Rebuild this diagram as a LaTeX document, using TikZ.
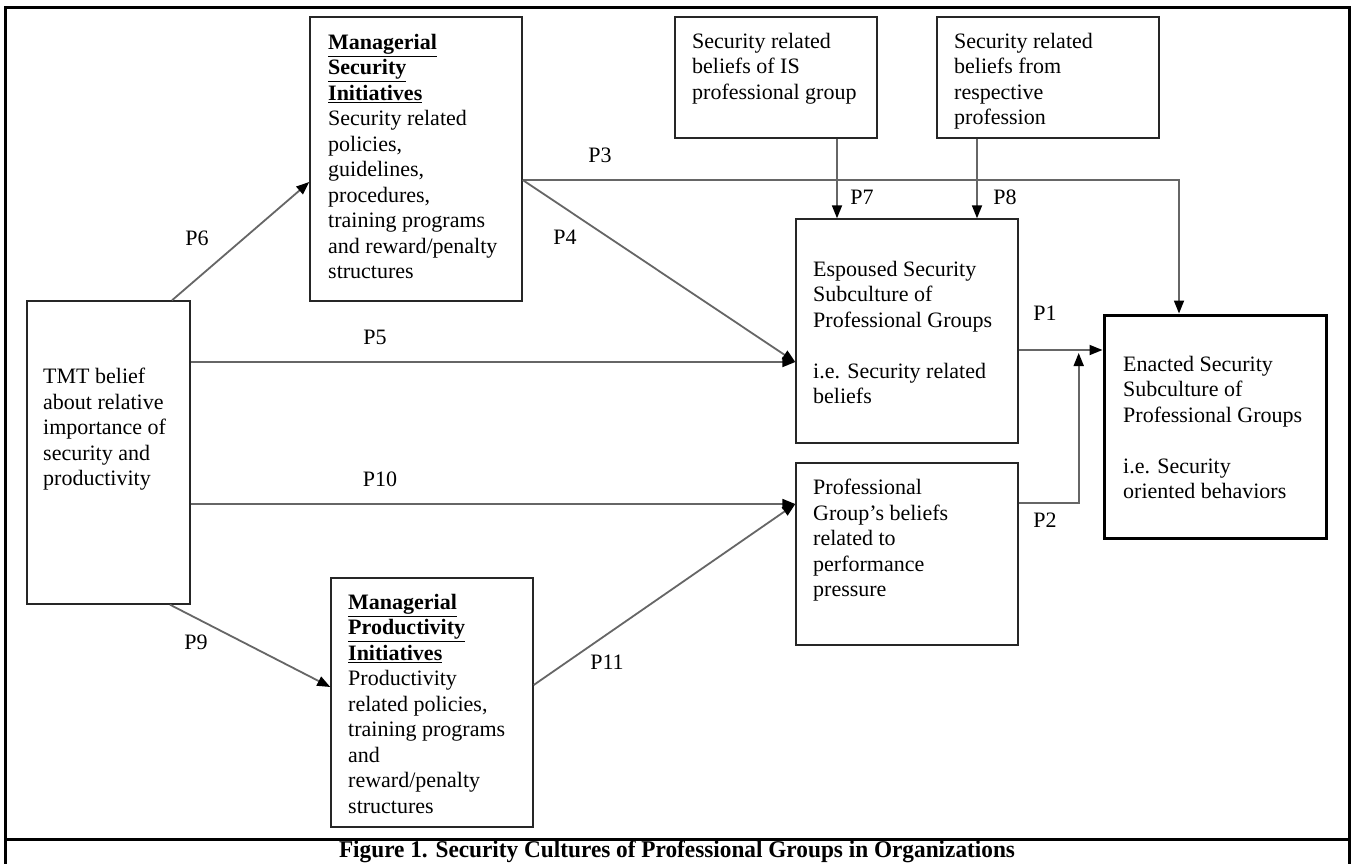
\documentclass[tikz,border=0pt]{standalone}
\usepackage{fontspec}
\setmainfont{Liberation Serif}
\usetikzlibrary{arrows.meta,calc}
\begin{document}
\begin{tikzpicture}[x=1pt,y=-1pt,
  box/.style={draw=black!85, line width=1.4pt, inner sep=0pt},
  txt/.style={anchor=north west, align=left, inner sep=0pt, font=\fontsize{22}{25.5}\selectfont},
  conn/.style={draw=black!60, line width=1.8pt, -{Triangle[length=13pt,width=10pt,color=black]}},
  lab/.style={inner sep=0pt, font=\fontsize{22}{25.5}\selectfont}]
\useasboundingbox (0,0) rectangle (1354,863);
\fill[white] (0,0) rectangle (1354,863);
% frame
\draw[line width=3pt] (5,870) -- (5,7) -- (1349,7) -- (1349,870);
\draw[line width=3pt] (5,839) -- (1349,839);
% boxes
\node[box, minimum width=163pt, minimum height=303pt] (tmt) at (108.5,452.5) {};
\node[box, minimum width=212pt, minimum height=284pt] (msi) at (416,159) {};
\node[box, minimum width=202pt, minimum height=121pt] (isb) at (776,77.5) {};
\node[box, minimum width=222pt, minimum height=121pt] (rpb) at (1048,77.5) {};
\node[box, minimum width=222pt, minimum height=224pt] (esp) at (907,331) {};
\node[box, minimum width=222pt, minimum height=182pt] (pgb) at (907,554) {};
\node[box, draw=black, line width=3pt, minimum width=222pt, minimum height=223pt] (ena) at (1215,426.5) {};
\node[box, minimum width=202pt, minimum height=249pt] (mpi) at (432,702.5) {};
% texts
\node[txt] (tmtt) at (43,368) {TMT belief\\ about relative\\ importance of\\ security and\\ productivity};
\node[txt] (msit) at (328,34) {\underline{\textbf{Managerial}}\\ \underline{\textbf{Security}}\\ \underline{\textbf{Initiatives}}\\ Security related\\ policies,\\ guidelines,\\ procedures,\\ training programs\\ and reward/penalty\\ structures};
\node[txt] (isbt) at (692,33) {Security related\\ beliefs of IS\\ professional group};
\node[txt] (rpbt) at (954,33) {Security related\\ beliefs from\\ respective\\ profession};
\node[txt] (espt) at (813,261) {Espoused Security\\ Subculture of\\ Professional Groups\\[25.5pt] i.e. Security related\\ beliefs};
\node[txt] (enat) at (1123,356) {Enacted Security\\ Subculture of\\ Professional Groups\\[25.5pt] i.e. Security\\ oriented behaviors};
\node[txt] (pgbt) at (813,479) {Professional\\ Group’s beliefs\\ related to\\ performance\\ pressure};
\node[txt] (mpit) at (348,594) {\underline{\textbf{Managerial}}\\ \underline{\textbf{Productivity}}\\ \underline{\textbf{Initiatives}}\\ Productivity\\ related policies,\\ training programs\\ and\\ reward/penalty\\ structures};
% connector end points
\coordinate (p3s) at ($(msi.east)+(0,21)$);
\coordinate (p3c) at ($(p3s -| ena.north)+(-36,0)$);
\coordinate (p45e) at ($(esp.west)+(0,31)$);
\coordinate (p1s) at ($(esp.east)+(0,19)$);
\coordinate (p1e) at (p1s -| ena.west);
\coordinate (p2s) at ($(pgb.east)+(0,-51)$);
\coordinate (p2c) at ($(p2s)+(60,0)$);
\coordinate (p2e) at ($(p2c)+(0,-150)$);
\coordinate (p10s) at ($(tmt.east)+(0,51.5)$);
\coordinate (p1011e) at (p10s -| pgb.west);
% connectors
\draw[conn] ($(tmt.north)+(63.5,0)$) -- ($(msi.west)+(0,23)$);
\draw[conn] (p3s) -- (p3c) -- ($(ena.north)+(-36,0)$);
\draw[conn] (p3s) -- (p45e);
\draw[conn] (tmt.east |- p45e) -- (p45e);
\draw[conn] ($(isb.south)+(61,0)$) -- ($(esp.north)+(-70,0)$);
\draw[conn] ($(rpb.south)+(-71,0)$) -- ($(esp.north)+(70,0)$);
\draw[conn] (p1s) -- (p1e);
\draw[conn] (p2s) -- (p2c) -- (p2e);
\draw[conn] (p10s) -- (p1011e);
\draw[conn] ($(mpi.east)+(0,-17.5)$) -- (p1011e);
\draw[conn] ($(tmt.south)+(61.5,0)$) -- ($(mpi.west)+(0,-15.5)$);
% labels
\node[lab] (l6) at (197,238) {P6};
\node[lab] (l3) at (600,155) {P3};
\node[lab] (l4) at (565,237) {P4};
\node[lab] (l5) at (375,337) {P5};
\node[lab] (l7) at (862,197) {P7};
\node[lab] (l8) at (1005,197) {P8};
\node[lab] (l1) at (1045,313) {P1};
\node[lab] (l10) at (380,479) {P10};
\node[lab] (l9) at (196,642) {P9};
\node[lab] (l11) at (607,662) {P11};
\node[lab] (l2) at (1045,520) {P2};
% caption
\node[anchor=base, xscale=.97, inner sep=0pt, font=\fontsize{24}{27}\selectfont\bfseries] (cap) at (677,857) {Figure 1. Security Cultures of Professional Groups in Organizations};
\end{tikzpicture}
\end{document}
